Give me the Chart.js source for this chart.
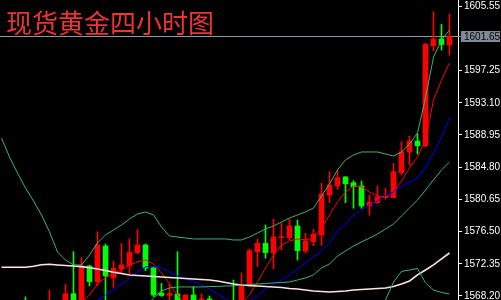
<!DOCTYPE html>
<html>
<head>
<meta charset="utf-8">
<script src="https://cdn.jsdelivr.net/npm/chart.js@4.4.1/dist/chart.umd.min.js"></script>
<style>
  html, body { margin: 0; padding: 0; background: #000; }
  #wrap { width: 501px; height: 300px; position: relative; }
</style>
</head>
<body>
<div id="wrap"><canvas id="c"></canvas></div>
<script>
/* 现货黄金 4H: velas + medias + bandas */
const TITLE = '现货黄金四小时图';
const LAST_PRICE = 1601.65;
const Y_TICKS = [1605.55, 1597.25, 1593.10, 1588.95, 1584.80, 1580.65, 1576.50, 1572.35, 1568.20];
const Y_MIN = 1567.68, Y_MAX = 1606.35;

// una vela por barra (57), null = fuera del recorte
const OPEN = [null, null, null, 1567.56, null, null, 1567.00, null, 1567.30, 1568.50,
  1567.43, 1572.07, 1570.04, 1574.64, 1570.56, 1571.68, 1572.10, 1573.78, 1574.77, 1571.81,
  1568.59, 1568.26, 1568.46, 1567.30, 1568.33, 1567.56, 1567.81, null, null, 1567.43,
  1567.43, 1569.49, 1573.91, 1574.99, 1573.78, 1575.72, 1575.71, 1577.22, 1574.00, 1575.20,
  1576.06, 1581.22, 1582.38, 1583.54, 1582.80, 1582.38, 1579.80, 1580.22, 1580.89, 1580.87,
  1584.09, 1586.76, 1588.17, 1587.53, 1600.46, 1601.32, 1600.55];
const HIGH = [null, null, null, 1568.07, null, null, 1568.97, null, 1569.71, 1573.91,
  1573.14, 1572.15, 1576.49, 1574.90, 1572.71, 1574.99, 1575.55, 1576.77, 1574.90, 1571.94,
  1569.81, 1569.75, 1573.91, 1568.39, 1569.42, 1568.46, 1568.20, null, null, 1570.26,
  1571.16, 1574.26, 1575.51, 1577.35, 1578.08, 1577.61, 1578.08, 1577.99, 1576.28, 1576.80,
  1582.72, 1584.22, 1584.31, 1583.60, 1583.06, 1583.02, 1581.18, 1582.38, 1582.08, 1585.30,
  1588.08, 1588.82, 1589.08, 1600.77, 1604.86, 1603.19, 1604.54];
const LOW = [null, null, null, 1566.91, null, null, 1566.80, null, 1567.00, 1567.00,
  1567.30, 1569.49, 1569.49, 1567.50, 1569.32, 1571.04, 1571.04, 1573.61, 1571.46, 1568.11,
  1568.14, 1567.56, 1567.30, 1567.04, 1567.17, 1567.30, 1567.30, null, null, 1566.91,
  1567.30, 1569.36, 1571.98, 1573.06, 1571.68, 1574.13, 1575.42, 1572.84, 1573.70, 1574.68,
  1574.71, 1580.22, 1581.95, 1580.22, 1579.50, 1579.50, 1578.64, 1580.15, 1580.66, 1580.83,
  1583.79, 1585.08, 1586.50, 1587.47, 1599.81, 1599.90, 1599.26];
const CLOSE = [null, null, null, 1567.17, null, null, 1567.56, null, 1568.50, 1567.30,
  1572.07, 1570.04, 1574.77, 1570.78, 1571.77, 1572.20, 1573.83, 1574.77, 1571.77, 1568.33,
  1568.26, 1568.52, 1567.43, 1568.33, 1567.43, 1567.81, 1567.56, null, null, 1567.04,
  1569.62, 1574.04, 1574.99, 1573.78, 1575.80, 1575.80, 1577.22, 1574.04, 1575.29, 1576.19,
  1581.34, 1582.50, 1583.45, 1582.67, 1582.29, 1579.80, 1580.31, 1581.00, 1581.09, 1584.22,
  1586.80, 1588.17, 1587.57, 1600.64, 1601.32, 1600.61, 1601.65];

const MA_RED = [null, null, null, null, null, null, null, null, null, 1566.40,
  1567.43, 1568.33, 1569.75, 1570.52, 1571.16, 1571.55, 1572.20, 1572.58, 1572.84, 1572.32,
  1571.16, 1569.75, 1568.33, 1567.04, 1566.60, 1566.40, 1566.30, 1566.30, 1566.40, 1566.60,
  1567.30, 1568.33, 1570.00, 1571.81, 1573.48, 1574.77, 1575.29, 1575.55, 1575.42, 1575.67,
  1576.96, 1578.64, 1580.31, 1581.60, 1582.38, 1582.25, 1581.60, 1581.09, 1580.96, 1581.60,
  1583.02, 1584.70, 1586.11, 1588.30, 1593.46, 1596.04, 1598.23];
const MA_BLUE = [null, null, null, null, null, null, null, null, null, null,
  null, 1566.91, 1567.68, 1568.33, 1568.97, 1569.75, 1570.39, 1571.29, 1571.94, 1572.07,
  1571.81, 1571.29, 1570.78, 1570.39, 1570.13, 1569.62, 1569.10, 1568.46, 1567.81, 1567.30,
  1567.04, 1567.56, 1568.20, 1569.10, 1569.75, 1570.26, 1570.91, 1571.68, 1572.45, 1573.23,
  1574.00, 1575.03, 1576.58, 1577.48, 1578.64, 1579.28, 1579.93, 1580.44, 1581.09, 1581.60,
  1582.38, 1582.89, 1583.41, 1584.70, 1586.63, 1588.69, 1591.14];
const MA_WHITE = [1571.90, 1571.90, 1571.90, 1571.90, 1572.03, 1572.22, 1572.29, 1572.20, 1572.13, 1572.07,
  1571.98, 1571.83, 1571.68, 1571.49, 1571.25, 1571.10, 1570.91, 1570.84, 1570.78, 1570.71,
  1570.65, 1570.58, 1570.52, 1570.46, 1570.39, 1570.33, 1570.26, 1570.13, 1569.94, 1569.75,
  1569.62, 1569.55, 1569.49, 1569.42, 1569.36, 1569.30, 1569.17, 1569.10, 1568.97, 1568.84,
  1568.78, 1568.72, 1568.78, 1568.84, 1568.97, 1569.04, 1569.10, 1569.17, 1569.23, 1569.42,
  1569.75, 1570.13, 1570.91, 1571.55, 1572.20, 1572.97, 1573.74];
const BAND_UP = [1588.56, 1586.11, 1584.05, 1582.12, 1580.44, 1578.64, 1576.45, 1573.87, 1572.84, 1572.20,
  1572.20, 1573.48, 1575.03, 1576.06, 1576.71, 1577.35, 1578.12, 1578.77, 1579.03, 1578.64,
  1577.09, 1575.93, 1575.80, 1575.67, 1575.55, 1575.55, 1575.55, 1575.55, 1575.55, 1575.42,
  1575.42, 1575.80, 1576.32, 1576.83, 1577.22, 1577.74, 1578.25, 1578.64, 1579.03, 1579.54,
  1581.09, 1582.63, 1584.44, 1585.73, 1586.37, 1586.76, 1586.76, 1586.76, 1586.50, 1586.24,
  1586.76, 1587.79, 1589.21, 1593.72, 1599.00, 1601.19, 1602.48];
const BAND_LOW = [null, null, null, null, null, null, null, null, null, null,
  null, null, null, null, null, null, null, null, 1566.90, 1567.94,
  1568.84, 1569.23, 1569.36, 1569.36, 1569.36, 1569.36, 1569.42, 1569.42, 1569.49, 1569.49,
  1569.62, 1569.68, 1569.75, 1569.81, 1569.88, 1569.94, 1570.00, 1570.26, 1570.52, 1570.91,
  1571.81, 1572.32, 1573.35, 1574.00, 1574.64, 1575.16, 1575.67, 1576.19, 1576.83, 1577.48,
  1578.51, 1579.54, 1580.57, 1581.86, 1583.15, 1584.44, 1585.47];
const EXTRA_GREEN = [null, null, null, null, null, null, null, null, null, null,
  null, null, null, null, null, null, null, null, null, null,
  null, null, null, null, null, null, null, null, null, null,
  null, null, null, null, null, null, null, null, null, null,
  null, null, null, null, null, null, null, 1566.40, 1567.68, 1570.00,
  1571.36, 1571.55, 1571.74, 1569.88, 1568.97, 1568.65, 1568.46];

const RED = '#ff0000', GREEN = '#00ff00';
const AXIS_FONT = { family: 'Liberation Sans', size: 10 };

const wicks = [], bodies = [], cols = [];
OPEN.forEach((o, i) => {
  if (o == null) return;
  const c = CLOSE[i];
  wicks.push({ x: i, y: [LOW[i], HIGH[i]] });
  bodies.push({ x: i, y: [Math.min(o, c), Math.max(o, c)] });
  cols.push(c >= o ? RED : GREEN);
});

const pts = arr => arr.map((v, i) => ({ x: i, y: v }));
const line = (data, color, width) => ({
  type: 'line', data: pts(data), borderColor: color, borderWidth: width || 1,
  pointRadius: 0, tension: 0, spanGaps: false, order: 0,
});

const overlay = {
  id: 'overlay',
  beforeDatasetsDraw(chart) {
    const { ctx, chartArea: a, scales: { y } } = chart;
    const py = Math.round(y.getPixelForValue(LAST_PRICE)) + 0.5;
    ctx.save();
    ctx.strokeStyle = '#8a98a8';
    ctx.lineWidth = 1;
    ctx.beginPath();
    ctx.moveTo(a.left, py);
    ctx.lineTo(a.right + 3, py);
    ctx.stroke();
    ctx.restore();
  },
  afterDraw(chart) {
    const { ctx, chartArea: a, scales: { y } } = chart;
    const py = Math.round(y.getPixelForValue(LAST_PRICE));
    ctx.save();
    ctx.fillStyle = '#7f8b98';
    ctx.fillRect(a.right + 3, py - 5, 39, 11);
    ctx.fillStyle = '#000';
    ctx.font = AXIS_FONT.size + 'px ' + AXIS_FONT.family;
    ctx.textBaseline = 'middle';
    ctx.fillText(LAST_PRICE.toFixed(2), a.right + 6, py + 1);
    ctx.fillStyle = '#ec3434';
    ctx.font = '26px "Noto Sans CJK SC"';
    ctx.textBaseline = 'top';
    ctx.fillText(TITLE, 6, 10);
    ctx.restore();
  },
};

new Chart(document.getElementById('c'), {
  type: 'bar',
  data: {
    datasets: [
      line(BAND_UP, '#3cb371'),
      line(BAND_LOW, '#3cb371'),
      line(EXTRA_GREEN, '#3cb371'),
      line(MA_WHITE, '#ffe4e1', 1.6),
      line(MA_BLUE, '#0000ff'),
      line(MA_RED, RED),
      { data: bodies, backgroundColor: cols, barThickness: 5, minBarLength: 1, grouped: false, order: 1 },
      { data: wicks, backgroundColor: cols, barThickness: 1, grouped: false, order: 2 },
    ],
  },
  options: {
    responsive: true, maintainAspectRatio: false, animation: false,
    devicePixelRatio: 1,
    layout: { padding: 0 },
    plugins: { legend: { display: false }, tooltip: { enabled: false } },
    scales: {
      x: { type: 'linear', display: false, offset: false, min: -0.1875, max: 57.0625 },
      y: {
        position: 'right', min: Y_MIN, max: Y_MAX, beginAtZero: false,
        afterFit(s) { s.width = 43; s.paddingTop = 0; s.paddingBottom = 0; },
        afterBuildTicks(s) { s.ticks = Y_TICKS.map(v => ({ value: v })); },
        border: { display: true, color: '#fff', width: 1 },
        grid: { drawOnChartArea: false, drawTicks: true, tickLength: 4, color: '#fff' },
        ticks: { color: '#fff', padding: 2, font: AXIS_FONT, autoSkip: false, callback: v => Number(v).toFixed(2) },
      },
    },
  },
  plugins: [overlay],
});
</script>
</body>
</html>
